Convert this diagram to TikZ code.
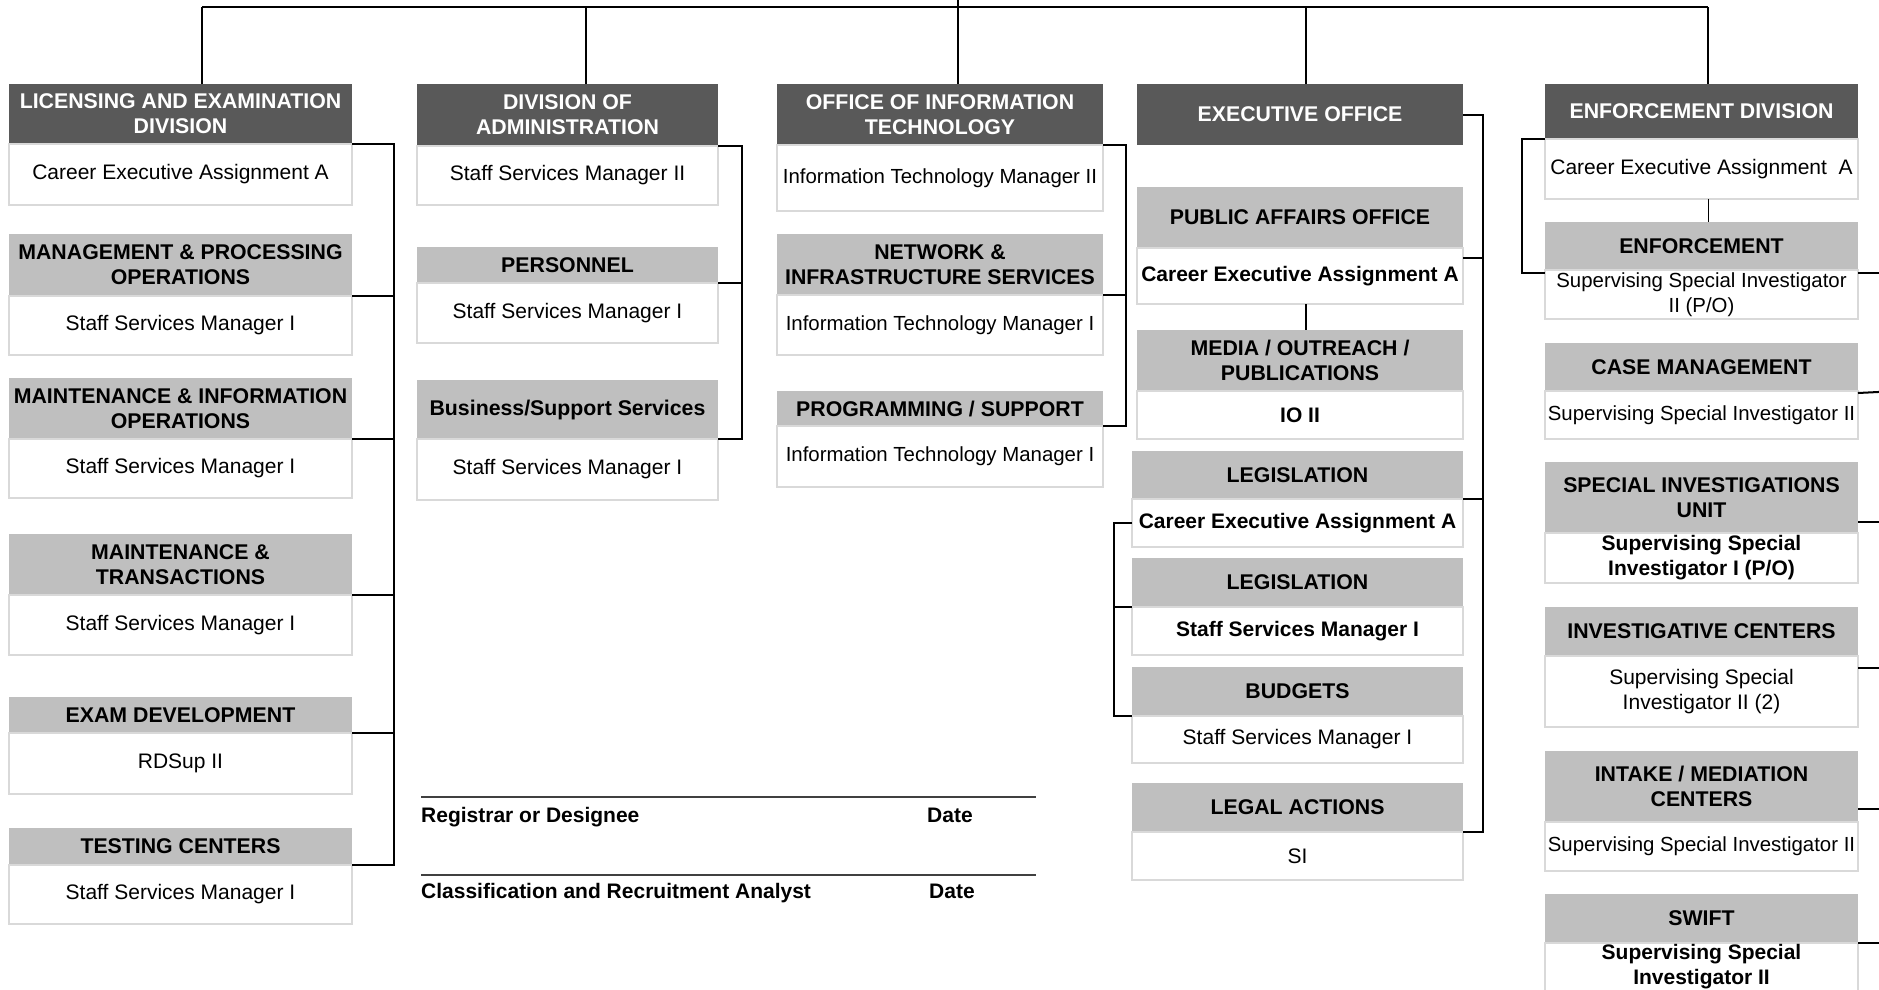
\documentclass[tikz,border=0pt]{standalone}
\usepackage{fontspec}
\setmainfont{Liberation Sans}
\usetikzlibrary{positioning,calc}

\definecolor{headdark}{HTML}{595959}
\definecolor{headgray}{HTML}{BFBFBF}
\definecolor{boxline}{HTML}{D9D9D9}
\newcommand{\orgsize}{\fontsize{21}{25}\selectfont}
\newcommand{\headsize}{\fontsize{21.3}{25}\selectfont}
\newcommand{\tightsize}{\fontsize{20.4}{25}\selectfont}

\tikzset{
    unit/.style={anchor=north west, inner sep=0pt, outer sep=0pt, align=center, minimum height=#1},
    divhead/.style={unit=#1, fill=headdark, text=white, font=\headsize\bfseries},
    unithead/.style={unit=#1, fill=headgray, font=\headsize\bfseries},
    post/.style={fill=white, draw=boxline, line width=2pt, inner sep=0pt, outer sep=0pt, align=center, minimum height=#1, font=\orgsize},
    postbold/.style={post=#1, font=\orgsize\bfseries},
    posttight/.style={post=#1, font=\tightsize},
    link/.style={line width=2pt, black},
    thinlink/.style={line width=1pt, black},
    signtext/.style={anchor=base west, inner sep=0pt, font=\orgsize\bfseries},
    signline/.style={line width=1.5pt, black!75},
}

\begin{document}
\begin{tikzpicture}[x=1pt, y=-1pt]
    \useasboundingbox (0,0) rectangle (1879,989);
    \clip (0,0) rectangle (1879,989);

    % licensing and examination division
    \begin{scope}[nodes={minimum width=343}]
        \node[divhead=60] (lic) at (9,84) {LICENSING AND EXAMINATION\\DIVISION};
        \node[post=61, below=0pt of lic] (licb) {Career Executive Assignment A};
        \node[unithead=62] (mpo) at (9,234) {MANAGEMENT \& PROCESSING\\OPERATIONS};
        \node[post=59, below=0pt of mpo] (mpob) {Staff Services Manager I};
        \node[unithead=61] (mio) at (9,378) {MAINTENANCE \& INFORMATION\\OPERATIONS};
        \node[post=59, below=0pt of mio] (miob) {Staff Services Manager I};
        \node[unithead=61] (mtr) at (9,534) {MAINTENANCE \&\\TRANSACTIONS};
        \node[post=60, below=0pt of mtr] (mtrb) {Staff Services Manager I};
        \node[unithead=36] (exd) at (9,697) {EXAM DEVELOPMENT};
        \node[post=61, below=0pt of exd] (exdb) {RDSup II};
        \node[unithead=37] (tst) at (9,828) {TESTING CENTERS};
        \node[post=59, below=0pt of tst] (tstb) {Staff Services Manager I};
    \end{scope}

    % division of administration
    \begin{scope}[nodes={minimum width=301}]
        \node[divhead=62] (adm) at (417,84) {DIVISION OF\\ADMINISTRATION};
        \node[post=59, below=0pt of adm] (admb) {Staff Services Manager II};
        \node[unithead=36] (per) at (417,247) {PERSONNEL};
        \node[post=60, below=0pt of per] (perb) {Staff Services Manager I};
        \node[unithead=59] (bss) at (417,380) {Business/Support Services};
        \node[post=61, below=0pt of bss] (bssb) {Staff Services Manager I};
    \end{scope}

    % office of information technology
    \begin{scope}[nodes={minimum width=326}]
        \node[divhead=61] (oit) at (777,84) {OFFICE OF INFORMATION\\TECHNOLOGY};
        \node[posttight=66, below=0pt of oit] (oitb) {Information Technology Manager II};
        \node[unithead=61] (net) at (777,234) {NETWORK \&\\INFRASTRUCTURE SERVICES};
        \node[posttight=60, below=0pt of net] (netb) {Information Technology Manager I};
        \node[unithead=35] (prg) at (777,391) {PROGRAMMING / SUPPORT};
        \node[posttight=61, below=0pt of prg] (prgb) {Information Technology Manager I};
    \end{scope}

    % executive office
    \begin{scope}[nodes={minimum width=326}]
        \node[divhead=61] (exo) at (1137,84) {EXECUTIVE OFFICE};
        \node[unithead=61] (pao) at (1137,187) {PUBLIC AFFAIRS OFFICE};
        \node[postbold=56, below=0pt of pao] (paob) {Career Executive Assignment A};
        \node[unithead=61] (med) at (1137,330) {MEDIA / OUTREACH /\\PUBLICATIONS};
        \node[postbold=48, below=0pt of med] (medb) {IO II};
    \end{scope}
    \begin{scope}[nodes={minimum width=331}]
        \node[unithead=48] (lg1) at (1132,451) {LEGISLATION};
        \node[postbold=48, below=0pt of lg1] (lg1b) {Career Executive Assignment A};
        \node[unithead=49] (lg2) at (1132,558) {LEGISLATION};
        \node[postbold=48, below=0pt of lg2] (lg2b) {Staff Services Manager I};
        \node[unithead=49] (bud) at (1132,667) {BUDGETS};
        \node[post=47, below=0pt of bud] (budb) {Staff Services Manager I};
        \node[unithead=49] (lac) at (1132,783) {LEGAL ACTIONS};
        \node[post=48, below=0pt of lac] (lacb) {SI};
    \end{scope}

    % enforcement division
    \begin{scope}[nodes={minimum width=313}]
        \node[divhead=55] (enf) at (1545,84) {ENFORCEMENT DIVISION};
        \node[post=60, below=0pt of enf] (enfb) {Career Executive Assignment~~A};
        \node[unithead=48] (enu) at (1545,222) {ENFORCEMENT};
        \node[posttight=49, below=0pt of enu] (enub) {Supervising Special Investigator\\II (P/O)};
        \node[unithead=48] (cmg) at (1545,343) {CASE MANAGEMENT};
        \node[posttight=48, below=0pt of cmg] (cmgb) {Supervising Special Investigator II};
        \node[unithead=71] (siu) at (1545,462) {SPECIAL INVESTIGATIONS\\UNIT};
        \node[postbold=50, below=0pt of siu] (siub) {Supervising Special\\Investigator I (P/O)};
        \node[unithead=49] (ivc) at (1545,607) {INVESTIGATIVE CENTERS};
        \node[post=71, below=0pt of ivc] (ivcb) {Supervising Special\\Investigator II (2)};
        \node[unithead=71] (imc) at (1545,751) {INTAKE / MEDIATION\\CENTERS};
        \node[posttight=49, below=0pt of imc] (imcb) {Supervising Special Investigator II};
        \node[unithead=49] (swf) at (1545,894) {SWIFT};
        \node[postbold=48, below=0pt of swf] (swfb) {Supervising Special\\Investigator II};
    \end{scope}

    % top bus
    \coordinate (top) at (958,-5);
    \coordinate (ltap) at (202,7);
    \coordinate (atap) at (586,7);
    \coordinate (etap) at (1306,7);
    \coordinate (ftap) at (1708,7);
    \draw[link] (ltap) -- (ftap);
    \draw[link] (ltap) -- (ltap |- lic.north);
    \draw[link] (atap) -- (atap |- adm.north);
    \draw[link] (top) -- (top |- oit.north);
    \draw[link] (etap) -- (etap |- exo.north);
    \draw[link] (ftap) -- (ftap |- enf.north);

    % licensing bracket
    \coordinate (lspine) at (394,0);
    \draw[link] (lic.south east) -- (lic.south east -| lspine) -- (tst.south east -| lspine) -- (tst.south east);
    \draw[link] (mpo.south east) -- (mpo.south east -| lspine);
    \draw[link] (mio.south east) -- (mio.south east -| lspine);
    \draw[link] (mtr.south east) -- (mtr.south east -| lspine);
    \draw[link] (exd.south east) -- (exd.south east -| lspine);

    % administration bracket
    \coordinate (aspine) at (742,0);
    \draw[link] (adm.south east) -- (adm.south east -| aspine) -- (bss.south east -| aspine) -- (bss.south east);
    \draw[link] (per.south east) -- (per.south east -| aspine);

    % information technology bracket
    \coordinate (ospine) at (1126,0);
    \draw[link] (oit.south east) -- (oit.south east -| ospine) -- (prg.south east -| ospine) -- (prg.south east);
    \draw[link] (net.south east) -- (net.south east -| ospine);

    % executive office brackets
    \coordinate (espine) at (1483,0);
    \draw[link] (exo.east) -- (exo.east -| espine) -- (lac.south east -| espine) -- (lac.south east);
    \draw[link] ($(paob.north east)+(0,10)$) -- ($(paob.north east -| espine)+(0,10)$);
    \draw[link] (lg1.south east) -- (lg1.south east -| espine);
    \draw[link] (paob.south -| etap) -- (med.north -| etap);
    \coordinate (xspine) at (1114,0);
    \draw[link] (lg1b.west) -- (lg1b.west -| xspine) -- (bud.south west -| xspine) -- (bud.south west);
    \draw[link] (lg2.south west) -- (lg2.south west -| xspine);

    % enforcement ties
    \coordinate (fspine) at (1522,0);
    \draw[thinlink] (enfb.south -| ftap) -- (enu.north -| ftap);
    \draw[link] (enf.south west) -- (enf.south west -| fspine) -- ($(enub.north west -| fspine)+(0,3)$) -- ($(enub.north west)+(0,3)$);
    \draw[link] ($(enub.north east)+(0,3)$) -- ++(40,0);
    \draw[link] ($(cmgb.north east)+(0,2)$) -- ++(40,-2);
    \draw[link] ($(siu.south east)+(0,-11)$) -- ++(40,0);
    \draw[link] ($(ivcb.north east)+(0,12)$) -- ++(40,0);
    \draw[link] ($(imc.south east)+(0,-13)$) -- ++(40,0);
    \draw[link] (swf.south east) -- ++(40,0);

    % signatures
    \coordinate (sig1) at (421,797);
    \coordinate (sig1e) at (1036,797);
    \coordinate (sig2) at (421,875);
    \coordinate (sig2e) at (1036,875);
    \draw[signline] (sig1) -- (sig1e);
    \draw[signline] (sig2) -- (sig2e);
    \node[signtext] (reg) at (421,822) {Registrar or Designee};
    \node[signtext] (regdate) at (927,822) {Date};
    \node[signtext] (cra) at (421,898) {Classification and Recruitment Analyst};
    \node[signtext] (cradate) at (929,898) {Date};
\end{tikzpicture}
\end{document}
